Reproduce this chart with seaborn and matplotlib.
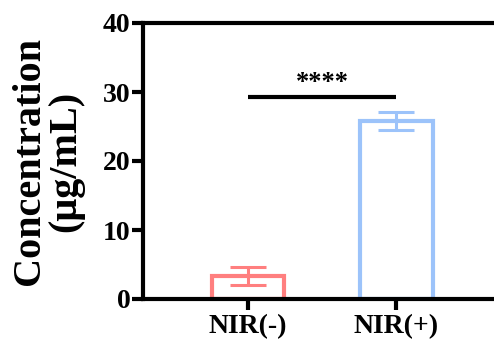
import matplotlib
matplotlib.use("Agg")
import matplotlib.pyplot as plt
import seaborn as sns
import pandas as pd

# values
groups = ["NIR(-)", "NIR(+)"]
means = [3.3, 25.8]
errors = [1.3, 1.3]
colors = ["#FF7F7F", "#9CC3FA"]
sig_y = 29.3
sig_text = "****"

sns.set_style("ticks")
plt.rcParams['font.family'] = ['Liberation Serif', 'DejaVu Serif']
plt.rcParams['font.weight'] = 'bold'
plt.rcParams['text.color'] = 'black'
plt.rcParams['axes.labelcolor'] = 'black'
plt.rcParams['xtick.color'] = 'black'
plt.rcParams['ytick.color'] = 'black'

df = pd.DataFrame({"group": groups, "value": means})

fig = plt.figure(figsize=(4.94, 3.47), dpi=100)
ax = fig.add_axes([143 / 494, 48 / 347, 351 / 494, 276 / 347])

sns.barplot(data=df, x="group", y="value", hue="group", palette=colors,
            fill=False, linewidth=3, width=0.49, errorbar=None,
            legend=False, ax=ax)

# error bars (mean +/- SD)
for i, (m, e) in enumerate(zip(means, errors)):
    ax.errorbar(i, m, yerr=e, color=colors[i], capsize=13, capthick=2.2,
                elinewidth=2.2, fmt="none", zorder=3)

# significance bracket
ax.plot([0, 1], [sig_y, sig_y], color="black", lw=3, solid_capstyle="butt")
ax.text(0.5, sig_y + 0.4, sig_text, ha="center", va="bottom",
        fontsize=19, fontweight="bold")

ax.set_ylim(0, 40)
ax.set_yticks([0, 10, 20, 30, 40])
ax.set_xlim(-0.71, 1.66)

for side in ["left", "bottom", "top"]:
    ax.spines[side].set_linewidth(3)
    ax.spines[side].set_color("black")
ax.spines["right"].set_visible(False)

ax.tick_params(axis="both", width=3, length=8, color="black",
               labelcolor="black", labelsize=20)
ax.tick_params(axis="y", pad=1)
ax.tick_params(axis="x", pad=3)
for lab in ax.get_xticklabels() + ax.get_yticklabels():
    lab.set_fontweight("bold")

ax.set_xlabel("")
ax.set_ylabel("Concentration\n(μg/mL)", fontsize=29, fontweight="bold",
              linespacing=0.95)
ax.yaxis.set_label_coords(-0.168, 0.5)

fig.savefig("out.png", dpi=100)
